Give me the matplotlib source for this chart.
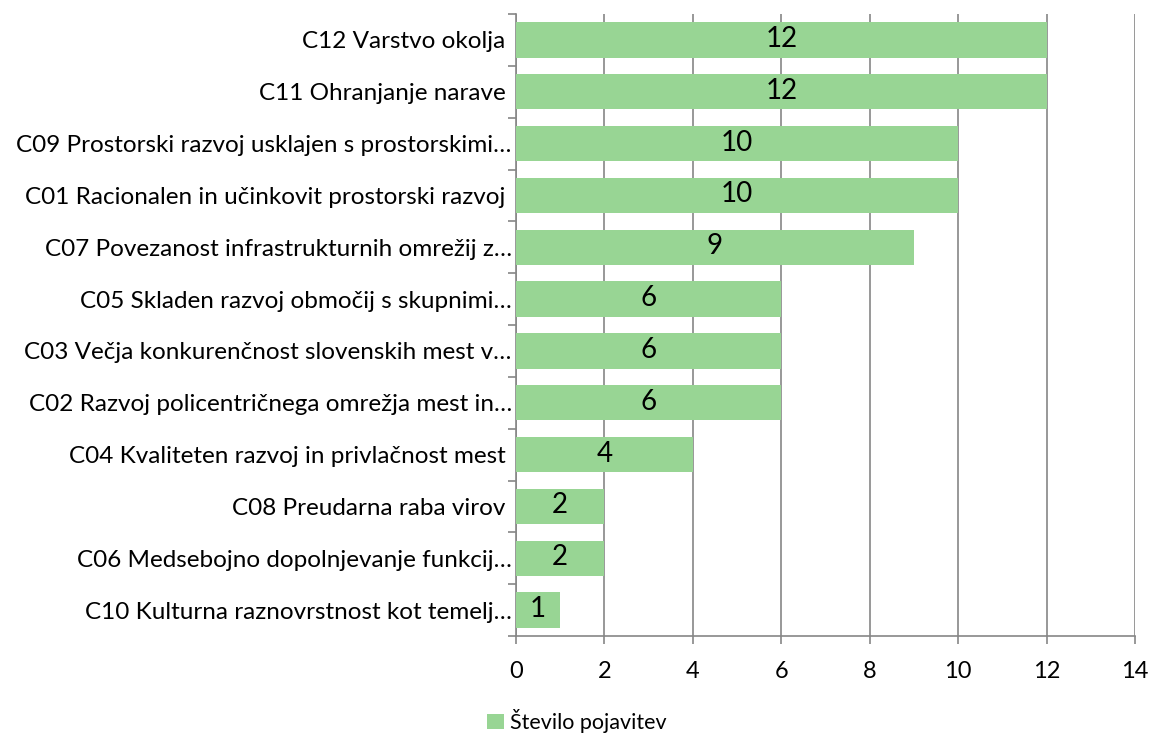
import matplotlib
matplotlib.use("Agg")
import matplotlib.pyplot as plt
from matplotlib.patches import Patch

categories = [
    "C12 Varstvo okolja ",
    "C11 Ohranjanje narave ",
    "C09 Prostorski razvoj usklajen s prostorskimi…",
    "C01 Racionalen in učinkovit prostorski razvoj ",
    "C07 Povezanost infrastrukturnih omrežij z…",
    "C05 Skladen razvoj območij s skupnimi…",
    "C03 Večja konkurenčnost slovenskih mest v…",
    "C02 Razvoj policentričnega omrežja mest in…",
    "C04 Kvaliteten razvoj in privlačnost mest ",
    "C08 Preudarna raba virov ",
    "C06 Medsebojno dopolnjevanje funkcij…",
    "C10 Kulturna raznovrstnost kot temelj…",
]
values = [12, 12, 10, 10, 9, 6, 6, 6, 4, 2, 2, 1]
series_name = "Število pojavitev"
xticks = [0, 2, 4, 6, 8, 10, 12, 14]

plt.rcParams['font.family'] = ['Lato', 'DejaVu Sans']
bar_color = "#98D594"
grid_color = "#868686"

fig = plt.figure(figsize=(11.51, 7.38), dpi=100)
ax = fig.add_axes([516/1151, 1-636/738, (1135-516)/1151, (636-14)/738])

n = len(categories)
ypos = list(range(n))[::-1]
ax.barh(ypos, values, height=0.68, color=bar_color, zorder=3)
for y, v in zip(ypos, values):
    ax.text(v/2, y + 0.02, str(v), ha='center', va='center', fontsize=20, color='black', zorder=4)

ax.set_xlim(0, 14)
ax.set_ylim(-0.5, n-0.5)
ax.set_xticks(xticks)
ax.set_xticklabels([str(t) for t in xticks], fontsize=17)
ax.set_yticks(ypos)
ax.set_yticklabels(categories, fontsize=17.5)
ax.tick_params(axis='y', length=0, pad=3)
ax.set_yticks([i - 0.5 for i in range(n+1)], minor=True)
ax.tick_params(axis='y', which='minor', length=6, color=grid_color, width=1.2)
ax.tick_params(axis='x', length=6, color=grid_color, width=1.2, pad=12)
ax.xaxis.grid(True, color=grid_color, linewidth=1.2, zorder=0)
for s in ['top', 'right']:
    ax.spines[s].set_visible(False)
for s in ['left', 'bottom']:
    ax.spines[s].set_color(grid_color)
    ax.spines[s].set_linewidth(1.2)

handles = [Patch(facecolor=bar_color, edgecolor='none')]
fig.legend(handles, [series_name], loc='center', bbox_to_anchor=(577/1151, 1-721/738),
           frameon=False, fontsize=15.5, handlelength=0.75, handleheight=0.75, handletextpad=0.3)

fig.savefig("out.png", dpi=100)
